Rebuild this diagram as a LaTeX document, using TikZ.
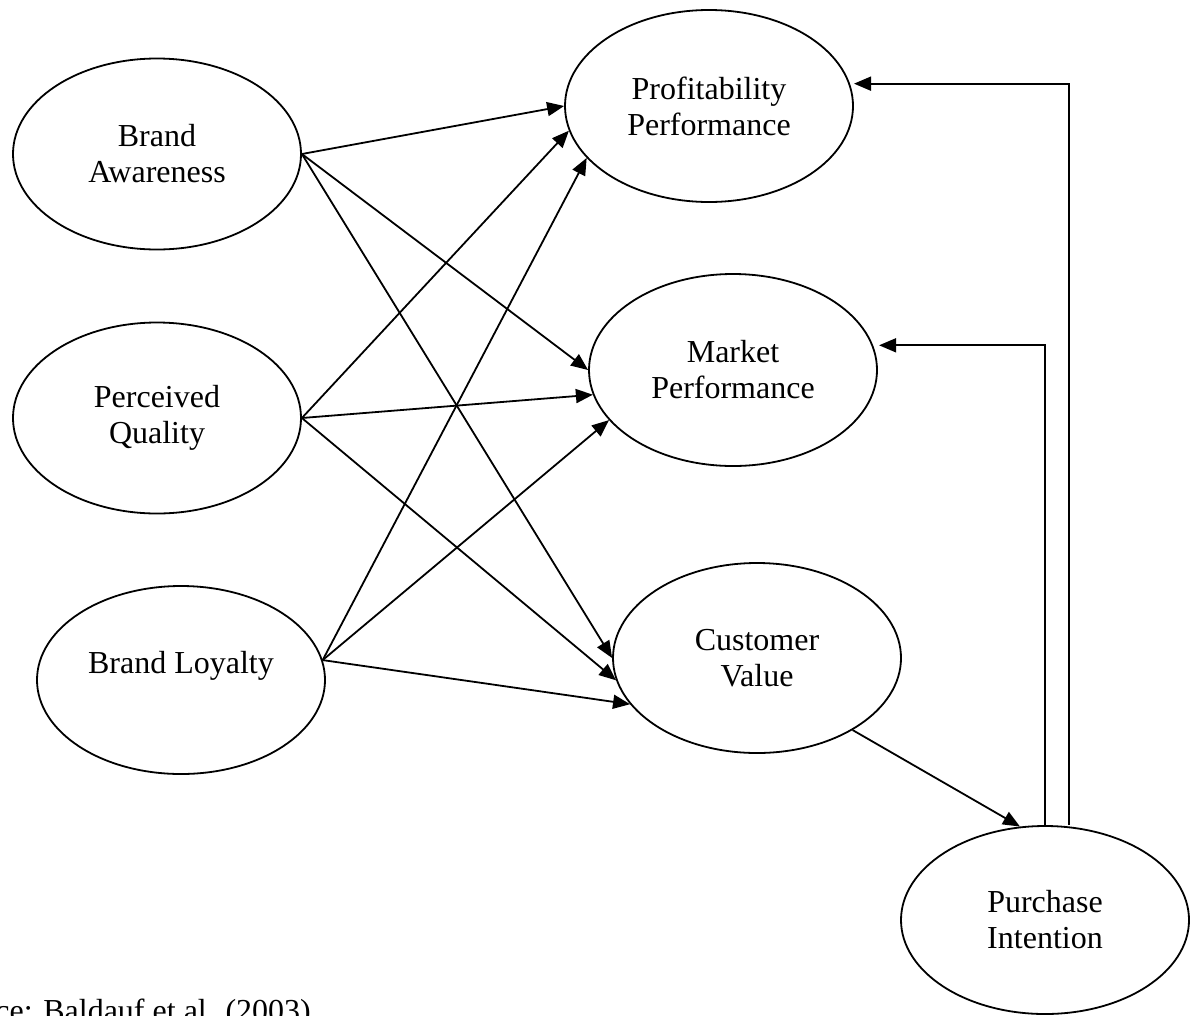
\documentclass[tikz,border=0pt]{standalone}
\usepackage{fontspec}
\setmainfont{Liberation Serif}
\usetikzlibrary{shapes.geometric,arrows.meta}
\begin{document}
\begin{tikzpicture}[x=1pt,y=-1pt,
  construct/.style={ellipse,draw,line width=1.8pt,minimum width=288pt,
    minimum height=191pt,inner sep=0pt,align=center,
    font=\fontsize{32}{36}\selectfont},
  link/.style={line width=1.8pt,-{Triangle[length=17pt,width=14pt]}}]
\clip (0,0) rectangle (1193,1015);
\fill[white] (0,0) rectangle (1193,1015);

% brand equity dimensions
\node[construct] (ba) at (157,154) {Brand\\Awareness};
\node[construct] (pq) at (157,418) {Perceived\\Quality};
\node[construct,minimum height=188pt] (bl) at (181,680) {Brand Loyalty\\\mbox{}};

% outcomes
\node[construct,minimum height=192pt] (pp) at (709,106) {Profitability\\Performance};
\node[construct,minimum height=192pt] (mp) at (733,370) {Market\\Performance};
\node[construct,minimum height=190pt] (cv) at (757,658) {Customer\\Value};
\node[construct,minimum height=188pt] (pi) at (1045,920) {Purchase\\Intention};

% direct effects
\draw[link] (ba.east) -- (pp.west);
\draw[link] (ba.east) -- (mp.west);
\draw[link] (ba.east) -- (cv.west);
\draw[link] (pq.east) -- (pp.190);
\draw[link] (pq.east) -- (mp.190);
\draw[link] (pq.east) -- (cv.189);
\draw[link] (bl.8) -- (pp.203);
\draw[link] (bl.8) -- (mp.202);
\draw[link] (bl.8) -- (cv.200);

% customer value to purchase intention and feedback paths
\draw[link] (cv.-37) -- (pi.105);
\draw[link] (pi.north) |- ([xshift=6pt]mp.10);
\draw[link] ([xshift=24pt]pi.north) |- ([xshift=4pt]pp.9);

% source line
\node[anchor=base east,inner sep=0pt,font=\fontsize{32}{36}\selectfont] (src)
  at (311,1021) {Source: Baldauf et al. (2003)};
\end{tikzpicture}
\end{document}
